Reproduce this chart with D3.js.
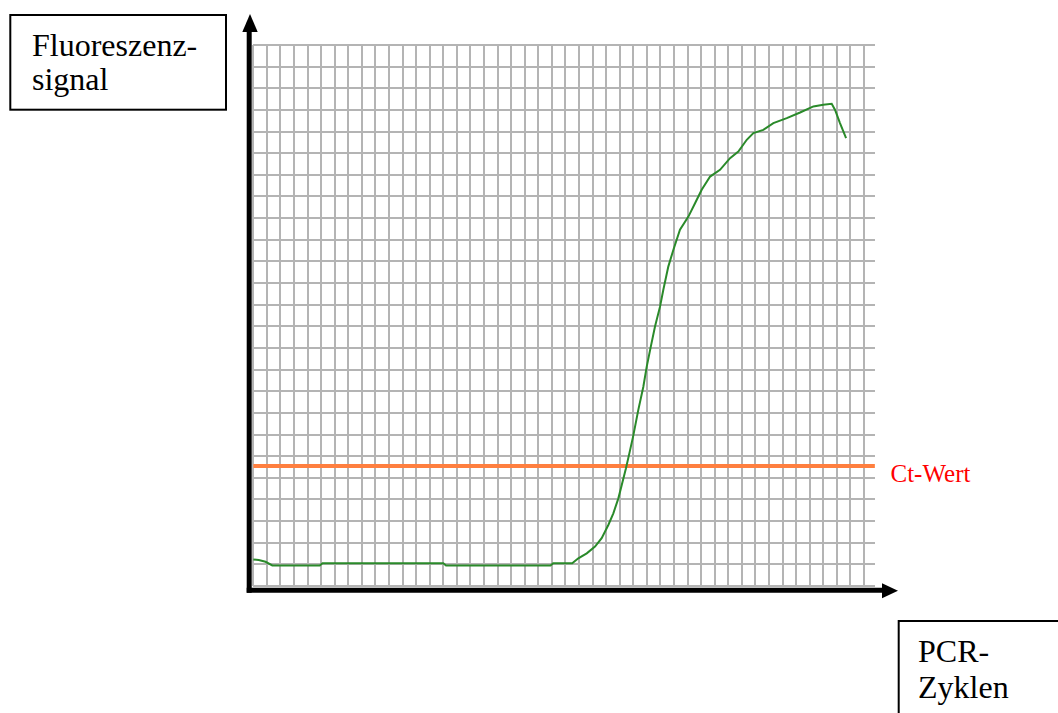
<!DOCTYPE html>
<html>
<head>
<meta charset="utf-8">
<script src="https://cdn.jsdelivr.net/npm/d3@7"></script>
<style>
  html, body { margin: 0; padding: 0; background: #ffffff; }
  svg { display: block; }
</style>
</head>
<body>
<script>
// ---- data (grid units: 1 column = 1 cycle, 1 row = 1 signal unit) ----
const cycles = [0, 0.4, 0.9, 1.4, 4.9, 5.1, 14.0, 14.2, 21.9, 22.1, 23.5, 23.95, 24.57, 25.18, 25.67, 26.16, 26.53, 26.9, 27.15, 27.46, 27.71, 28.0, 28.37, 28.74, 28.99, 29.29, 29.6, 29.97, 30.21, 30.58, 30.95, 31.44, 32.06, 32.55, 33.04, 33.66, 34.39, 35.13, 35.74, 36.36, 36.85, 37.58, 38.32, 39.31, 40.29, 41.27, 42.0, 42.62, 42.87, 43.23, 43.68];
const signal = [1.23, 1.2, 1.12, 0.95, 0.95, 1.05, 1.05, 0.95, 0.95, 1.05, 1.05, 1.28, 1.51, 1.82, 2.21, 2.82, 3.36, 4.05, 4.67, 5.44, 6.13, 6.95, 8.14, 9.21, 10.14, 11.06, 11.99, 12.91, 13.68, 14.76, 15.53, 16.46, 17.07, 17.69, 18.31, 18.92, 19.23, 19.77, 20.08, 20.62, 20.93, 21.08, 21.39, 21.62, 21.88, 22.16, 22.24, 22.28, 22.0, 21.39, 20.7];
const ctThreshold = 5.55;
const xGridTicks = d3.range(0, 46);   // vertical grid lines
const yGridTicks = d3.range(0, 26);   // horizontal grid lines
const yLabelLines = ["Fluoreszenz-", "signal"];
const xLabelLines = ["PCR-", "Zyklen"];
const ctLabel = "Ct-Wert";

const W = 1058, H = 713;
const svg = d3.select("body").append("svg").attr("width", W).attr("height", H);

const x = d3.scaleLinear().domain([0, 45]).range([253.3, 864]);
const y = d3.scaleLinear().domain([0, 25]).range([586, 45]);
const xEnd = 45.8; // horizontal lines run slightly past the last column

// grid
const grid = svg.append("g").attr("stroke", "#b4b4b4").attr("stroke-width", 2);
grid.selectAll("line.v").data(xGridTicks).enter().append("line")
  .attr("x1", d => Math.round(x(d))).attr("x2", d => Math.round(x(d)))
  .attr("y1", Math.round(y(25))).attr("y2", Math.round(y(0)));
grid.selectAll("line.h").data(yGridTicks).enter().append("line")
  .attr("y1", d => Math.round(y(d))).attr("y2", d => Math.round(y(d)))
  .attr("x1", Math.round(x(0))).attr("x2", Math.round(x(xEnd)));

// Ct threshold line
svg.append("line")
  .attr("x1", x(0)).attr("x2", x(xEnd))
  .attr("y1", y(ctThreshold)).attr("y2", y(ctThreshold))
  .attr("stroke", "#ff7f3f").attr("stroke-width", 4);

svg.append("text")
  .attr("x", 890.5).attr("y", 481.5)
  .attr("font-family", "'Liberation Serif', 'Times New Roman', serif")
  .attr("font-size", 25).attr("fill", "#ff0000")
  .text(ctLabel);

// amplification curve
const pts = cycles.map((c, i) => [c, signal[i]]);
svg.append("path")
  .datum(pts)
  .attr("fill", "none")
  .attr("stroke", "#2a8a2a")
  .attr("stroke-width", 2)
  .attr("d", d3.line().x(d => x(d[0])).y(d => y(d[1])));

// axes with arrows
svg.append("line").attr("x1", 249.2).attr("x2", 249.2).attr("y1", 592.8).attr("y2", 30)
  .attr("stroke", "#000").attr("stroke-width", 5);
svg.append("path").attr("d", "M250,14 L242.3,32 L257.7,32 Z").attr("fill", "#000");
svg.append("line").attr("x1", 246.7).attr("x2", 884).attr("y1", 590.2).attr("y2", 590.2)
  .attr("stroke", "#000").attr("stroke-width", 5);
svg.append("path").attr("d", "M898,590.8 L882,583.3 L882,598.3 Z").attr("fill", "#000");

// label boxes
const font = "'Liberation Serif', 'Times New Roman', serif";
svg.append("rect").attr("x", 10.3).attr("y", 15).attr("width", 215.7).attr("height", 94.7)
  .attr("fill", "none").attr("stroke", "#000").attr("stroke-width", 2);
svg.selectAll("text.yl").data(yLabelLines).enter().append("text")
  .attr("x", 32).attr("y", (d, i) => 56 + i * 34)
  .attr("font-family", font).attr("font-size", 32).attr("fill", "#000")
  .text(d => d);

svg.append("rect").attr("x", 898.7).attr("y", 621).attr("width", 200).attr("height", 150)
  .attr("fill", "none").attr("stroke", "#000").attr("stroke-width", 2);
svg.selectAll("text.xl").data(xLabelLines).enter().append("text")
  .attr("x", 918).attr("y", (d, i) => 662 + i * 35.5)
  .attr("font-family", font).attr("font-size", 32).attr("fill", "#000")
  .text(d => d);
</script>
</body>
</html>
